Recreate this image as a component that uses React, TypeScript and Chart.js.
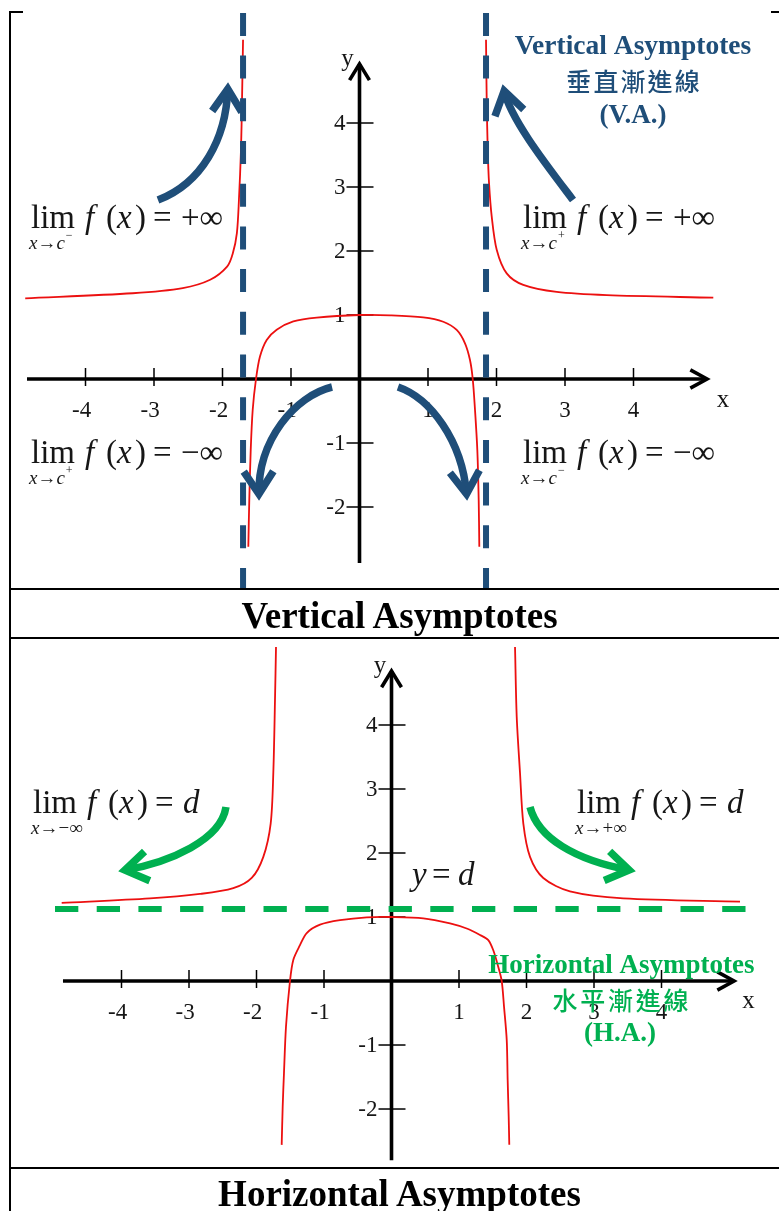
import React, { useEffect, useRef } from "react";
import { Chart, registerables } from "chart.js";

Chart.register(...registerables);

type Pt = { x: number; y: number };

// ---- Vertical asymptote example: three branches of f ----
const vaLeftBranch: Pt[] = [
  { x: -4.88, y: 1.26 }, { x: -3.31, y: 1.34 }, { x: -2.58, y: 1.42 }, { x: -2.18, y: 1.55 },
  { x: -1.93, y: 1.76 }, { x: -1.85, y: 1.96 }, { x: -1.79, y: 2.28 }, { x: -1.76, y: 2.8 },
  { x: -1.73, y: 3.58 }, { x: -1.715, y: 4.36 }, { x: -1.7, y: 5.3 },
];
const vaMiddleBranch: Pt[] = [
  { x: -1.623, y: -2.62 }, { x: -1.609, y: -1.89 }, { x: -1.588, y: -1.11 }, { x: -1.559, y: -0.48 },
  { x: -1.511, y: 0 }, { x: -1.453, y: 0.35 }, { x: -1.355, y: 0.61 }, { x: -1.209, y: 0.77 },
  { x: -0.966, y: 0.9 }, { x: -0.625, y: 0.96 }, { x: 0, y: 1.0 }, { x: 0.45, y: 0.995 },
  { x: 0.931, y: 0.964 }, { x: 1.223, y: 0.895 }, { x: 1.419, y: 0.766 }, { x: 1.54, y: 0.558 },
  { x: 1.613, y: 0.297 }, { x: 1.653, y: 0 }, { x: 1.686, y: -0.48 }, { x: 1.72, y: -1.11 },
  { x: 1.74, y: -1.89 }, { x: 1.749, y: -2.62 },
];
const vaRightBranch: Pt[] = [
  { x: 1.847, y: 5.3 }, { x: 1.857, y: 4.36 }, { x: 1.872, y: 3.58 }, { x: 1.891, y: 3.06 },
  { x: 1.93, y: 2.54 }, { x: 2.003, y: 2.02 }, { x: 2.149, y: 1.65 }, { x: 2.391, y: 1.47 },
  { x: 2.879, y: 1.36 }, { x: 3.609, y: 1.31 }, { x: 5.165, y: 1.27 },
];
const vaAsymptotesX = [-1.7, 1.847];

// ---- Horizontal asymptote example ----
const haLeftBranch: Pt[] = [
  { x: -4.886, y: 1.22 }, { x: -3.578, y: 1.29 }, { x: -2.837, y: 1.36 }, { x: -2.344, y: 1.45 },
  { x: -2.071, y: 1.61 }, { x: -1.899, y: 1.94 }, { x: -1.79, y: 2.46 }, { x: -1.751, y: 3.25 },
  { x: -1.726, y: 4.39 }, { x: -1.711, y: 5.22 },
];
const haMiddleBranch: Pt[] = [
  { x: -1.627, y: -2.56 }, { x: -1.612, y: -1.96 }, { x: -1.593, y: -1.44 }, { x: -1.563, y: -0.71 },
  { x: -1.504, y: 0 }, { x: -1.455, y: 0.33 }, { x: -1.356, y: 0.56 }, { x: -1.256, y: 0.75 },
  { x: -1.059, y: 0.88 }, { x: -0.763, y: 0.95 }, { x: -0.367, y: 0.995 }, { x: 0, y: 1.0 },
  { x: 0.471, y: 0.98 }, { x: 0.867, y: 0.9 }, { x: 1.114, y: 0.82 }, { x: 1.311, y: 0.72 },
  { x: 1.434, y: 0.64 }, { x: 1.508, y: 0.48 }, { x: 1.582, y: 0.22 }, { x: 1.633, y: 0 },
  { x: 1.667, y: -0.4 }, { x: 1.707, y: -0.92 }, { x: 1.721, y: -1.55 }, { x: 1.736, y: -2.12 },
  { x: 1.745, y: -2.56 },
];
const haRightBranch: Pt[] = [
  { x: 1.83, y: 5.22 }, { x: 1.855, y: 4.13 }, { x: 1.904, y: 3.25 }, { x: 1.953, y: 2.46 },
  { x: 2.052, y: 1.94 }, { x: 2.249, y: 1.61 }, { x: 2.644, y: 1.4 }, { x: 3.434, y: 1.29 },
  { x: 5.163, y: 1.24 },
];
const haAsymptotesY = [1.125];

// ---- Shared tick marks ----
const xTickValues = [-4, -3, -2, -1, 1, 2, 3, 4];
const xTickLabels = ["-4", "-3", "-2", "-1", "1", "2", "3", "4"];
const yTickValues = [-2, -1, 1, 2, 3, 4];
const yTickLabels = ["-2", "-1", "1", "2", "3", "4"];

const SERIF = '"Liberation Serif", "Times New Roman", serif';
const CJK = '"Noto Sans CJK TC", "Noto Sans CJK SC", sans-serif';
const RED = "#ec1010";
const BLUE = "#1f4e79";
const GREEN = "#00b050";
const INK = "#161616";

type Run = { t: string; italic?: boolean; sup?: boolean };
type LimitLabel = { x: number; y: number; sub: Run[]; rhs: string; rhsItalic?: boolean };
type TitleLine = { text: string; x: number; y: number; font: string; color: string; step?: number };

type PanelSpec = {
  id: string;
  height: number;
  xRange: [number, number];
  yRange: [number, number];
  xAxis: [number, number];
  yAxis: [number, number];
  branches: Pt[][];
  vLines: number[];
  vSpan: [number, number];
  hLines: number[];
  hSpan: [number, number];
  dash: number[];
  dashColor: string;
  arrows: Pt[][];
  arrowColor: string;
  limits: LimitLabel[];
  titles: TitleLine[];
  xName: Pt;
  yName: Pt;
  equation?: Pt;
};

const subC = (s: string): Run[] => [{ t: "x", italic: true }, { t: "\u2192" }, { t: "c", italic: true }, { t: s, sup: true }];
const subInf = (s: string): Run[] => [{ t: "x", italic: true }, { t: "\u2192" }, { t: s + "\u221e" }];

const vaPanel: PanelSpec = {
  id: "va",
  height: 589,
  xRange: [-5.2482, 6.1241],
  yRange: [-3.28125, 5.9219],
  xAxis: [-4.854, 5.117],
  yAxis: [-2.875, 4.97],
  branches: [vaLeftBranch, vaMiddleBranch, vaRightBranch],
  vLines: vaAsymptotesX,
  vSpan: [-3.4, 5.72],
  hLines: [],
  hSpan: [0, 0],
  dash: [23, 19.7],
  dashColor: BLUE,
  arrows: [
    [{ x: -2.942, y: 2.797 }, { x: -2.3, y: 3.06 }, { x: -1.95, y: 3.75 }, { x: -1.92, y: 4.609 }],
    [{ x: 3.117, y: 2.797 }, { x: 2.752, y: 3.313 }, { x: 2.212, y: 4.047 }, { x: 2.095, y: 4.578 }],
    [{ x: -0.401, y: -0.125 }, { x: -0.942, y: -0.266 }, { x: -1.482, y: -0.953 }, { x: -1.467, y: -1.875 }],
    [{ x: 0.562, y: -0.125 }, { x: 1.029, y: -0.297 }, { x: 1.496, y: -0.953 }, { x: 1.569, y: -1.875 }],
  ],
  arrowColor: BLUE,
  limits: [
    { x: -4.796, y: 2.355, sub: subC("\u2212"), rhs: "+\u221e" },
    { x: 2.387, y: 2.355, sub: subC("+"), rhs: "+\u221e" },
    { x: -4.796, y: -1.317, sub: subC("+"), rhs: "\u2212\u221e" },
    { x: 2.387, y: -1.317, sub: subC("\u2212"), rhs: "\u2212\u221e" },
  ],
  titles: [
    { text: "Vertical Asymptotes", x: 3.993, y: 5.078, font: `bold 27.5px ${SERIF}`, color: BLUE },
    { text: "垂直漸進線", x: 3.993, y: 4.656, font: `500 25px ${CJK}`, color: BLUE, step: 27.1 },
    { text: "(V.A.)", x: 3.993, y: 4.0, font: `bold 27px ${SERIF}`, color: BLUE },
  ],
  xName: { x: 5.307, y: -0.4375 },
  yName: { x: -0.175, y: 4.891 },
};

const haPanel: PanelSpec = {
  id: "ha",
  height: 527,
  xRange: [-5.8, 5.7407],
  yRange: [-2.906, 5.328],
  xAxis: [-4.867, 5.119],
  yAxis: [-2.8, 4.89],
  branches: [haLeftBranch, haMiddleBranch, haRightBranch],
  vLines: [],
  vSpan: [0, 0],
  hLines: haAsymptotesY,
  hSpan: [-4.985, 5.267],
  dash: [23.3, 18.4],
  dashColor: GREEN,
  arrows: [
    [{ x: -2.452, y: 2.719 }, { x: -2.526, y: 2.203 }, { x: -3.281, y: 1.859 }, { x: -4.022, y: 1.719 }],
    [{ x: 2.052, y: 2.719 }, { x: 2.17, y: 2.234 }, { x: 2.719, y: 1.891 }, { x: 3.593, y: 1.719 }],
  ],
  arrowColor: GREEN,
  limits: [
    { x: -5.311, y: 2.62, sub: subInf("\u2212"), rhs: "d", rhsItalic: true },
    { x: 2.748, y: 2.62, sub: subInf("+"), rhs: "d", rhsItalic: true },
  ],
  titles: [
    { text: "Horizontal Asymptotes", x: 3.407, y: 0.125, font: `bold 27px ${SERIF}`, color: GREEN },
    { text: "水平漸進線", x: 3.393, y: -0.297, font: `500 25px ${CJK}`, color: GREEN, step: 27.75 },
    { text: "(H.A.)", x: 3.385, y: -0.9375, font: `bold 27px ${SERIF}`, color: GREEN },
  ],
  xName: { x: 5.289, y: -0.422 },
  yName: { x: -0.17, y: 4.8125 },
  equation: { x: 0.304, y: 1.5 },
};

function line(ctx: CanvasRenderingContext2D, x0: number, y0: number, x1: number, y1: number) {
  ctx.beginPath();
  ctx.moveTo(x0, y0);
  ctx.lineTo(x1, y1);
  ctx.stroke();
}

function chevron(ctx: CanvasRenderingContext2D, tx: number, ty: number, ang: number, len: number, half: number) {
  ctx.beginPath();
  ctx.moveTo(tx - len * Math.cos(ang - half), ty - len * Math.sin(ang - half));
  ctx.lineTo(tx, ty);
  ctx.lineTo(tx - len * Math.cos(ang + half), ty - len * Math.sin(ang + half));
  ctx.stroke();
}

function drawArrow(ctx: CanvasRenderingContext2D, p: Pt[], color: string) {
  ctx.save();
  ctx.strokeStyle = color;
  ctx.lineWidth = 7.5;
  ctx.lineCap = "butt";
  ctx.lineJoin = "miter";
  const ang = Math.atan2(p[3].y - p[2].y, p[3].x - p[2].x);
  const tx = p[3].x - 5 * Math.cos(ang);
  const ty = p[3].y - 5 * Math.sin(ang);
  ctx.beginPath();
  ctx.moveTo(p[0].x, p[0].y);
  ctx.bezierCurveTo(p[1].x, p[1].y, p[2].x, p[2].y, tx, ty);
  ctx.stroke();
  chevron(ctx, tx, ty, ang, 27, 0.58);
  ctx.restore();
}

function drawLimit(ctx: CanvasRenderingContext2D, px: number, py: number, lab: LimitLabel) {
  ctx.save();
  ctx.fillStyle = INK;
  ctx.textAlign = "left";
  ctx.textBaseline = "alphabetic";
  ctx.font = `33px ${SERIF}`;
  ctx.fillText("lim", px, py);
  let sx = px - 2;
  for (const r of lab.sub) {
    ctx.font = `${r.italic ? "italic " : ""}${r.sup ? 12 : 19}px ${SERIF}`;
    ctx.fillText(r.t, sx + (r.sup ? 1 : 0), py + (r.sup ? 11 : 21));
    sx += ctx.measureText(r.t).width;
  }
  const it = `italic 33px ${SERIF}`;
  const up = `33px ${SERIF}`;
  const pieces: [string, string, number][] = [
    [it, "f", 54],
    [up, "(", 75],
    [it, "x", 86],
    [up, ")", 104],
    [up, "=", 122],
    [lab.rhsItalic ? it : up, lab.rhs, 150],
  ];
  for (const [font, t, dx] of pieces) {
    ctx.font = font;
    ctx.fillText(t, px + dx, py);
  }
  ctx.restore();
}

function makePlugin(spec: PanelSpec) {
  return {
    id: "sketch-" + spec.id,
    beforeDatasetsDraw(chart: Chart) {
      const { ctx } = chart;
      const xs = chart.scales.x;
      const ys = chart.scales.y;
      const X = (v: number) => xs.getPixelForValue(v);
      const Y = (v: number) => ys.getPixelForValue(v);
      const ox = X(0);
      const oy = Y(0);
      ctx.save();
      ctx.strokeStyle = "#000";
      ctx.fillStyle = INK;
      ctx.lineWidth = 3.6;
      ctx.lineJoin = "miter";
      // x axis with open arrowhead
      const xe = X(spec.xAxis[1]) - 3;
      line(ctx, X(spec.xAxis[0]), oy, xe, oy);
      chevron(ctx, xe, oy, 0, 19, 0.5);
      // y axis with open arrowhead
      const ye = Y(spec.yAxis[1]) + 3;
      line(ctx, ox, Y(spec.yAxis[0]), ox, ye);
      chevron(ctx, ox, ye, -Math.PI / 2, 19, 0.55);
      // tick marks
      ctx.lineWidth = 1.5;
      xTickValues.forEach((v) => line(ctx, X(v), oy - 11, X(v), oy + 7));
      yTickValues.forEach((v) => line(ctx, ox - 13, Y(v), ox + 14, Y(v)));
      // tick labels
      ctx.font = `23px ${SERIF}`;
      ctx.textBaseline = "middle";
      ctx.textAlign = "right";
      xTickLabels.forEach((lab, i) => {
        const w = ctx.measureText(lab.replace("-", "")).width;
        ctx.fillText(lab, X(xTickValues[i]) + w / 2, oy + 32);
      });
      yTickLabels.forEach((lab, i) => {
        ctx.fillText(lab, ox - 14, Y(yTickValues[i]) + 1);
      });
      // axis names
      ctx.font = `25px ${SERIF}`;
      ctx.textAlign = "center";
      ctx.textBaseline = "alphabetic";
      ctx.fillText("x", X(spec.xName.x), Y(spec.xName.y));
      ctx.fillText("y", X(spec.yName.x), Y(spec.yName.y));
      ctx.restore();
    },
    afterDatasetsDraw(chart: Chart) {
      const { ctx } = chart;
      const xs = chart.scales.x;
      const ys = chart.scales.y;
      const X = (v: number) => xs.getPixelForValue(v);
      const Y = (v: number) => ys.getPixelForValue(v);
      ctx.save();
      // dashed asymptotes
      ctx.strokeStyle = spec.dashColor;
      ctx.lineWidth = 6;
      ctx.lineCap = "butt";
      ctx.setLineDash(spec.dash);
      spec.vLines.forEach((v) => line(ctx, X(v), Y(spec.vSpan[1]), X(v), Y(spec.vSpan[0])));
      spec.hLines.forEach((v) => line(ctx, X(spec.hSpan[0]), Y(v), X(spec.hSpan[1]), Y(v)));
      ctx.setLineDash([]);
      // curved direction arrows
      spec.arrows.forEach((a) => drawArrow(ctx, a.map((p) => ({ x: X(p.x), y: Y(p.y) })), spec.arrowColor));
      // limit statements
      spec.limits.forEach((lab) => drawLimit(ctx, X(lab.x), Y(lab.y), lab));
      // y = d
      if (spec.equation) {
        const ex = X(spec.equation.x);
        const ey = Y(spec.equation.y);
        ctx.fillStyle = INK;
        ctx.textAlign = "left";
        ctx.textBaseline = "alphabetic";
        ctx.font = `italic 33px ${SERIF}`;
        ctx.fillText("y", ex, ey);
        ctx.fillText("d", ex + 46, ey);
        ctx.font = `33px ${SERIF}`;
        ctx.fillText("=", ex + 20, ey);
      }
      // titles
      spec.titles.forEach((tl) => {
        ctx.fillStyle = tl.color;
        ctx.font = tl.font;
        ctx.textAlign = "center";
        const cx = X(tl.x);
        const cy = Y(tl.y);
        if (tl.step) {
          ctx.textBaseline = "middle";
          const chars = Array.from(tl.text);
          chars.forEach((ch, i) => ctx.fillText(ch, cx + (i - (chars.length - 1) / 2) * tl.step!, cy));
        } else {
          ctx.textBaseline = "alphabetic";
          ctx.fillText(tl.text, cx, cy);
        }
      });
      ctx.restore();
    },
  };
}

function Panel({ spec, top }: { spec: PanelSpec; top: number }) {
  const ref = useRef<HTMLCanvasElement>(null);
  useEffect(() => {
    if (!ref.current) return;
    const chart = new Chart(ref.current, {
      type: "scatter",
      data: {
        datasets: spec.branches.map((b, i) => ({
          label: `branch ${i + 1}`,
          data: b,
          showLine: true,
          borderColor: RED,
          borderWidth: 1.8,
          pointRadius: 0,
          tension: 0.3,
          fill: false,
        })),
      },
      options: {
        animation: false,
        responsive: false,
        maintainAspectRatio: false,
        devicePixelRatio: 1,
        events: [],
        layout: { padding: 0 },
        scales: {
          x: { type: "linear", min: spec.xRange[0], max: spec.xRange[1], display: false },
          y: { type: "linear", min: spec.yRange[0], max: spec.yRange[1], display: false },
        },
        plugins: { legend: { display: false }, tooltip: { enabled: false } },
      },
      plugins: [makePlugin(spec) as any],
    });
    return () => chart.destroy();
  }, [spec]);
  return (
    <canvas
      ref={ref}
      width={779}
      height={spec.height}
      style={{ position: "absolute", left: 0, top, width: 779, height: spec.height }}
    />
  );
}

const rule = (left: number, top: number, width: number, height: number): React.CSSProperties => ({
  position: "absolute",
  left,
  top,
  width,
  height,
  background: "#000",
});

const caption = (top: number): React.CSSProperties => ({
  position: "absolute",
  left: 0,
  top,
  width: 799,
  textAlign: "center",
  font: `bold 37px ${SERIF}`,
  lineHeight: "37px",
  color: "#000",
  whiteSpace: "nowrap",
});

export default function App() {
  return (
    <div
      style={{
        position: "absolute",
        left: 0,
        top: 0,
        width: 779,
        height: 1211,
        overflow: "hidden",
        background: "#fff",
      }}
    >
      <Panel spec={vaPanel} top={0} />
      <Panel spec={haPanel} top={640} />
      <div style={rule(9, 11, 2, 1200)} />
      <div style={rule(9, 11, 14, 2)} />
      <div style={rule(771, 11, 8, 2)} />
      <div style={rule(9, 588, 770, 2)} />
      <div style={rule(9, 637, 770, 2)} />
      <div style={rule(9, 1167, 770, 2)} />
      <div style={caption(597)}>Vertical Asymptotes</div>
      <div style={caption(1175)}>Horizontal Asymptotes</div>
    </div>
  );
}
